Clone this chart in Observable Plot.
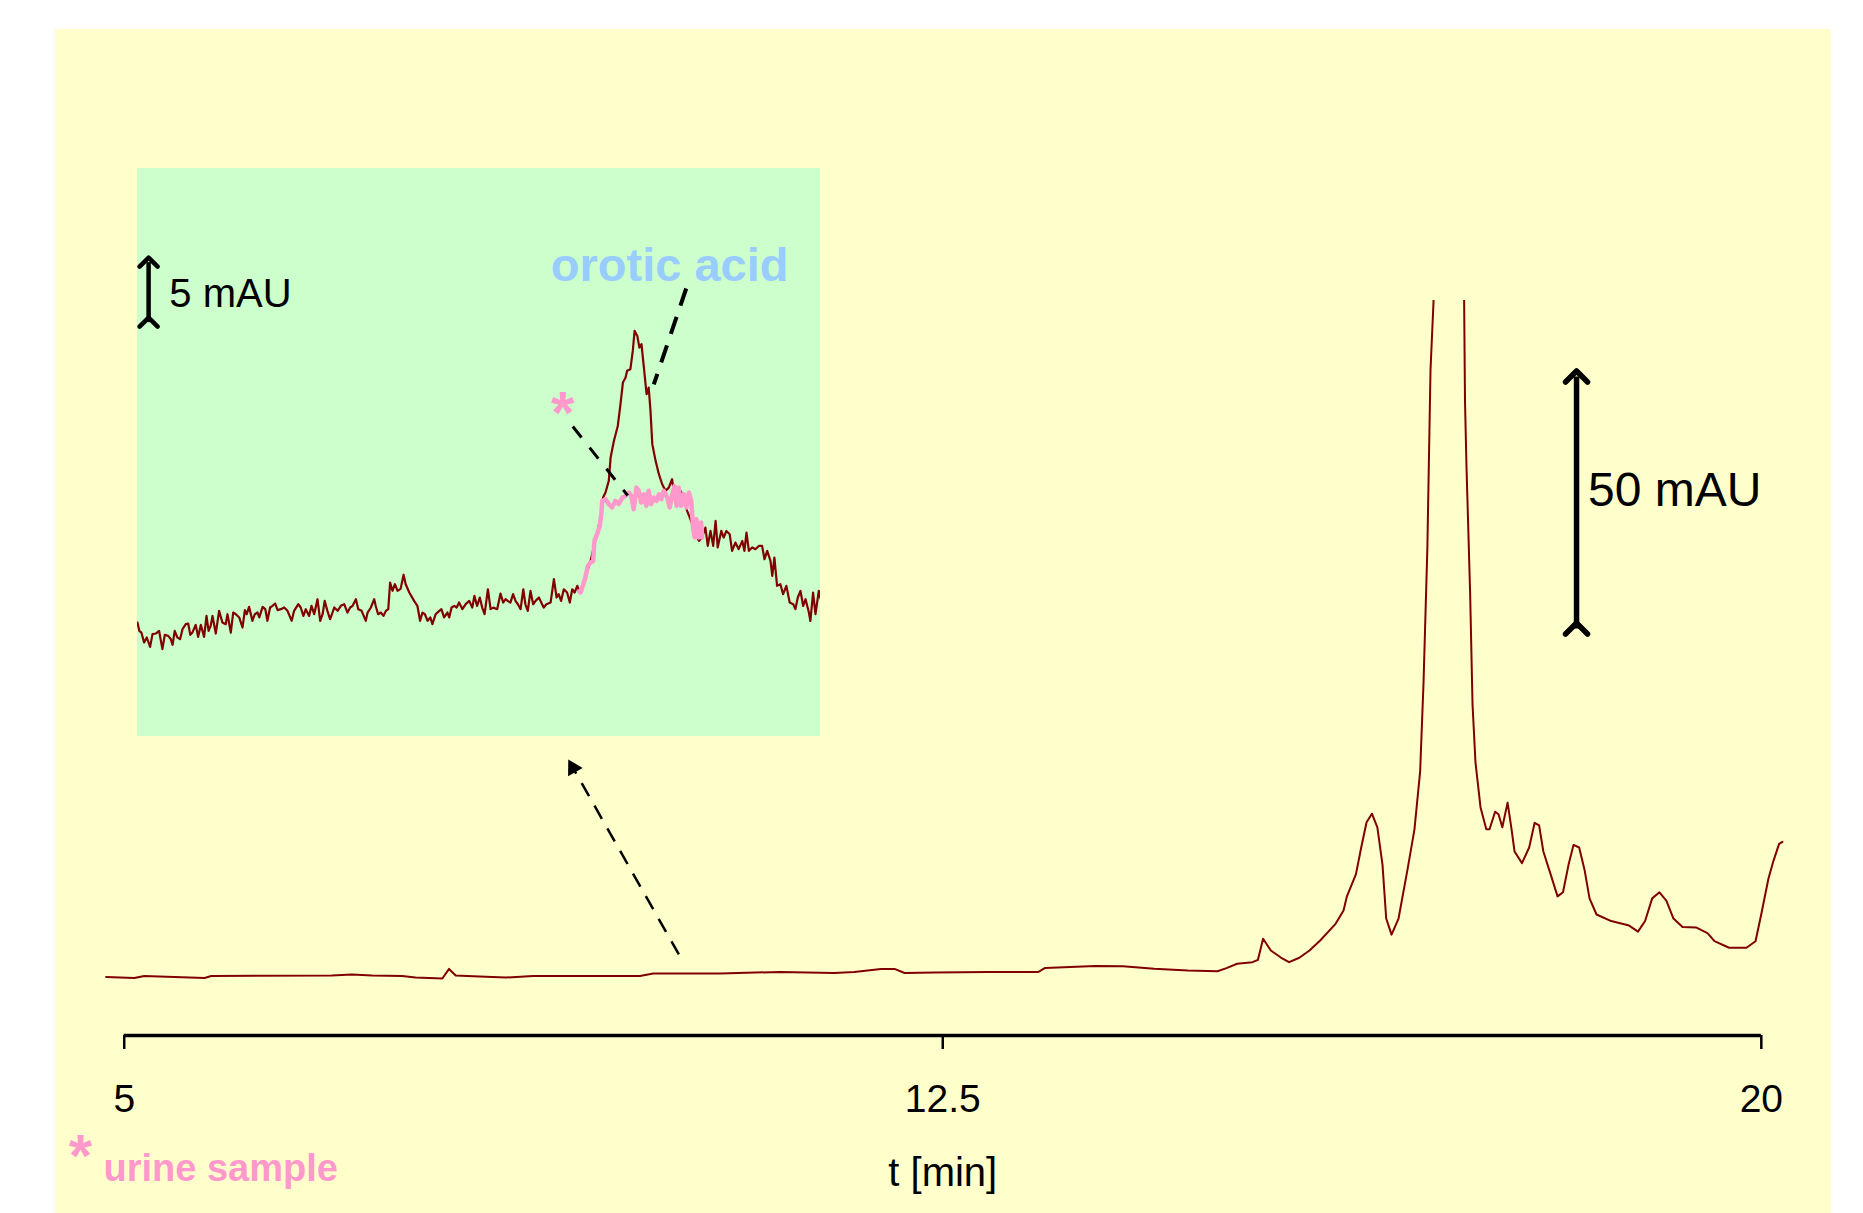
<!DOCTYPE html>
<html><head><meta charset="utf-8">
<script src="https://cdn.jsdelivr.net/npm/d3@7"></script>
<script src="https://cdn.jsdelivr.net/npm/@observablehq/plot@0.6"></script>
<style>
body{margin:0;background:#fff;}
#wrap{position:relative;width:1863px;height:1213px;overflow:hidden;}
#main{position:absolute;left:55px;top:29px;}
#inset{position:absolute;left:137px;top:168px;}
svg{display:block;}
</style></head><body><div id="wrap"><div id="main"></div><div id="inset"></div></div>
<script>
// ---------- data (t in min, absorbance in mAU) ----------
const mainTrace = [
  [4.834,-0.1],[5.092,-0.3],[5.184,0.1],[5.736,-0.3],[5.797,0.1],[6.902,0.2],[7.086,0.4],[7.271,0.2],
  [7.546,0.1],[7.669,-0.2],[7.915,-0.4],[7.976,1.5],[8.037,0.2],[8.253,0.0],[8.498,-0.2],[8.744,0.1],
  [8.989,0.1],[9.725,0.1],[9.848,0.6],[10.462,0.6],[11.013,0.9],[11.505,0.7],[11.689,0.9],[11.934,1.5],
  [12.058,1.5],[12.15,0.7],[12.425,0.8],[12.917,0.9],[13.377,0.9],[13.438,1.7],[13.899,2.1],
  [14.15,2.04],[14.437,1.53],[14.746,1.19],[15.017,1.05],[15.1,1.65],[15.197,2.52],[15.338,2.84],
  [15.388,3.3],[15.435,7.48],[15.506,5.16],[15.601,3.71],[15.673,2.84],[15.767,3.71],[15.86,5.16],
  [15.958,7.14],[16.099,10.45],[16.172,13.1],[16.203,15.9],[16.286,20.3],[16.334,25.6],[16.383,30.6],
  [16.432,32.3],[16.482,29.6],[16.529,22.2],[16.563,11.5],[16.612,8.3],[16.676,11.5],[16.758,21.2],
  [16.822,29.2],[16.874,40.7],[16.905,58.3],[16.94,84.9],[16.969,120.4],[16.997,134.1],[17.12,260],
  [17.277,134.1],[17.285,114.2],[17.299,100.9],[17.332,76.1],[17.354,54.0],[17.381,42.5],[17.427,33.6],
  [17.48,29.2],[17.51,29.2],[17.561,32.7],[17.592,32.2],[17.627,29.6],[17.675,34.5],[17.709,29.6],
  [17.739,24.8],[17.807,22.5],[17.873,25.6],[17.923,30.5],[17.964,30.0],[18.003,24.8],[18.069,20.3],
  [18.133,15.9],[18.183,16.7],[18.233,22.1],[18.279,26.1],[18.331,25.6],[18.38,21.2],[18.426,15.5],
  [18.49,12.3],[18.625,11.0],[18.789,10.1],[18.87,8.9],[18.935,11.0],[19.0,15.5],[19.067,16.7],
  [19.131,15.0],[19.195,11.5],[19.278,9.8],[19.406,9.7],[19.507,8.6],[19.571,7.0],[19.705,5.7],
  [19.864,5.7],[19.947,7.0],[19.999,12.3],[20.065,19.4],[20.112,23.0],[20.163,26.3],[20.194,26.7]
];
const xTicks = [5, 12.5, 20];
const xLabel = "t [min]";

// inset (zoomed view) : standard trace (brown) and urine sample (pink)
const insetStandard = [
  [9.000,9.50],[9.006,8.80],[9.013,8.66],[9.022,7.83],[9.031,8.25],[9.042,7.47],[9.050,8.53],[9.061,8.58],
  [9.072,8.80],[9.083,7.28],[9.091,8.47],[9.102,8.39],[9.111,8.11],[9.117,7.64],[9.124,8.80],[9.133,8.25],
  [9.142,8.11],[9.150,8.94],[9.161,9.36],[9.169,9.41],[9.176,8.47],[9.183,8.66],[9.194,9.30],[9.202,8.30],
  [9.211,9.30],[9.222,8.30],[9.230,10.05],[9.237,8.80],[9.244,9.22],[9.250,10.05],[9.261,8.58],[9.272,10.47],
  [9.283,9.50],[9.294,9.36],[9.300,10.19],[9.311,8.66],[9.319,10.33],[9.328,10.19],[9.339,9.92],[9.350,9.08],
  [9.358,10.53],[9.364,10.19],[9.372,10.80],[9.383,9.64],[9.391,10.19],[9.400,10.33],[9.406,9.92],[9.417,10.80],
  [9.426,10.61],[9.433,9.64],[9.442,10.75],[9.450,10.89],[9.459,11.08],[9.467,10.53],[9.478,10.61],[9.489,10.75],
  [9.500,10.47],[9.514,9.64],[9.522,10.47],[9.536,11.03],[9.544,10.75],[9.553,10.05],[9.561,10.61],[9.572,10.05],
  [9.580,10.89],[9.589,10.19],[9.600,11.44],[9.609,9.64],[9.617,10.19],[9.624,11.30],[9.633,10.47],[9.642,9.78],
  [9.650,10.33],[9.656,10.75],[9.667,10.47],[9.678,10.89],[9.689,11.03],[9.700,10.33],[9.709,10.75],[9.717,10.89],
  [9.728,11.44],[9.736,10.61],[9.747,10.47],[9.761,9.64],[9.767,10.33],[9.778,10.75],[9.789,11.44],[9.794,10.89],
  [9.802,10.19],[9.811,10.33],[9.820,10.05],[9.828,10.47],[9.836,10.61],[9.842,12.83],[9.850,12.14],[9.858,12.69],
  [9.867,12.14],[9.877,12.30],[9.887,13.48],[9.894,12.69],[9.906,12.00],[9.922,11.30],[9.933,10.89],[9.942,9.64],
  [9.950,10.33],[9.958,10.19],[9.967,9.64],[9.976,9.92],[9.983,9.36],[9.994,10.19],[10.006,10.47],[10.013,10.61],
  [10.022,9.92],[10.033,10.33],[10.039,9.92],[10.047,10.75],[10.056,10.89],[10.064,10.75],[10.072,11.17],[10.083,10.61],
  [10.094,11.03],[10.106,11.30],[10.116,10.74],[10.123,11.72],[10.132,10.88],[10.141,11.58],[10.149,10.74],[10.157,10.19],
  [10.168,12.27],[10.177,10.61],[10.186,10.74],[10.199,10.61],[10.210,11.91],[10.219,11.16],[10.227,11.44],[10.234,11.30],
  [10.243,11.16],[10.252,11.86],[10.260,11.30],[10.268,11.02],[10.277,10.61],[10.286,12.27],[10.293,11.02],[10.301,10.47],
  [10.310,12.13],[10.319,11.02],[10.327,11.30],[10.338,11.58],[10.346,11.16],[10.354,10.74],[10.363,11.02],[10.377,11.16],
  [10.388,13.11],[10.397,11.58],[10.404,11.86],[10.412,11.30],[10.421,12.27],[10.432,12.00],[10.441,11.16],[10.449,12.27],
  [10.457,12.00],[10.466,12.55],[10.472,12.13],[10.480,12.30],[10.493,13.30],[10.510,14.60],[10.523,16.00],[10.532,16.86],
  [10.543,18.25],[10.552,19.91],[10.560,20.33],[10.571,21.30],[10.577,23.24],[10.588,24.63],[10.601,25.88],[10.610,27.69],
  [10.618,29.49],[10.627,29.91],[10.632,30.47],[10.643,30.61],[10.651,32.13],[10.657,33.80],[10.666,33.38],[10.673,32.41],
  [10.680,32.69],[10.688,30.74],[10.697,28.52],[10.704,29.08],[10.710,27.13],[10.716,24.36],[10.727,22.97],[10.738,21.86],
  [10.749,21.02],[10.760,20.47],[10.771,20.74],[10.782,21.44],[10.788,20.33],[10.799,20.05],[10.810,20.47],[10.821,19.91],
  [10.832,18.80],[10.845,18.00],[10.860,16.80],[10.872,16.30],[10.882,16.58],[10.893,17.41],[10.901,15.88],[10.910,17.13],
  [10.919,15.88],[10.927,17.97],[10.934,15.75],[10.946,17.13],[10.954,16.58],[10.963,17.13],[10.974,16.86],[10.982,15.47],
  [10.993,16.16],[11.004,15.61],[11.016,16.30],[11.023,15.47],[11.030,16.99],[11.038,15.47],[11.049,15.75],[11.060,15.61],
  [11.071,15.88],[11.082,15.88],[11.090,14.77],[11.099,15.47],[11.110,14.63],[11.116,13.38],[11.123,14.91],[11.132,12.55],
  [11.143,12.69],[11.152,11.86],[11.163,12.55],[11.174,11.16],[11.186,11.02],[11.193,10.61],[11.201,11.58],[11.210,12.13],
  [11.219,10.88],[11.227,11.44],[11.238,10.33],[11.243,9.63],[11.252,11.99],[11.260,10.19],[11.271,12.13],[11.277,11.50]
];
const insetUrine = [
  [10.472,12.10],[10.477,12.00],[10.486,12.69],[10.493,13.25],[10.501,14.22],[10.510,14.50],[10.519,14.63],[10.523,16.30],
  [10.532,16.86],[10.541,17.55],[10.546,18.52],[10.549,19.63],[10.560,19.77],[10.571,19.36],[10.582,19.08],[10.593,19.63],
  [10.604,19.36],[10.616,19.91],[10.627,20.05],[10.638,20.33],[10.646,20.05],[10.654,18.94],[10.663,20.74],[10.671,20.47],
  [10.679,19.49],[10.688,20.19],[10.696,19.22],[10.704,20.47],[10.712,19.36],[10.721,19.91],[10.730,19.63],[10.738,20.19],
  [10.746,19.77],[10.754,20.47],[10.766,19.91],[10.774,19.08],[10.782,20.05],[10.790,20.88],[10.797,19.22],[10.804,20.74],
  [10.812,19.22],[10.821,20.19],[10.830,19.08],[10.838,20.33],[10.846,19.63],[10.852,17.41],[10.857,16.58],[10.863,18.11],
  [10.871,16.58],[10.879,17.83],[10.882,16.58]
];

// annotations (data units)
const scaleBarMain = [{t: 18.307, y1: 69.05, y2: 119.05, label: "50 mAU", tx: 18.413, ty: 93.35}];
const zoomArrow = [{t1: 10.082, y1: 4.37, t2: 9.112, y2: 41.4}];
const scaleBarInset = [{t: 9.037, y1: 34.53, y2: 39.53, label: "5 mAU", tx: 9.106, ty: 35.78}];
const peakLabel = [{t: 10.774, y: 37.92, label: "orotic acid"}];
const peakPointer = [{t1: 10.829, y1: 37.33, t2: 10.721, y2: 29.34}];
const urineMark = [{t: 10.417, y: 28.83, label: "*"}];
const urinePointer = [{t1: 10.451, y1: 25.83, t2: 10.634, y2: 20.08}];
const legendText = "urine sample";

// ---------- colours ----------
const C = {bg: "#FFFFCC", inset: "#CCFFCC", trace: "#800000", urine: "#FF99CC", label: "#99CCFF"};
const FONT = "'Liberation Sans', Arial, Helvetica, sans-serif";

const mainRows = mainTrace.map(([t, y]) => ({t, y}));
const yMin = -11.71, yMax = 134.13;
const axisStart = xTicks[0], axisEnd = xTicks[xTicks.length - 1];

const main = Plot.plot({
  width: 1776, height: 1184,
  marginLeft: 46.9, marginRight: 42.9, marginTop: 271, marginBottom: 178,
  x: {domain: [4.8, 20.25], axis: null},
  y: {domain: [yMin, yMax], axis: null},
  style: {background: C.bg, fontFamily: FONT, color: "black", overflow: "visible"},
  marks: [
    Plot.line(mainRows, {x: "t", y: "y", stroke: C.trace, strokeWidth: 2, clip: true}),
    Plot.ruleY([yMin], {x1: axisStart, x2: axisEnd, stroke: "black", strokeWidth: 3.3}),
    Plot.axisX(xTicks, {tickSize: 14, tickPadding: 35, fontSize: 39, strokeWidth: 2.5,
      tickFormat: d => String(d), label: null}),
    Plot.link(scaleBarMain, {x1: "t", x2: "t", y1: "y1", y2: "y2", stroke: "black", strokeWidth: 5.5, marker: "arrow"}),
    Plot.text(scaleBarMain, {x: "tx", y: "ty", text: "label", textAnchor: "start", lineAnchor: "bottom", fontSize: 48, fill: "black"}),
    Plot.link(zoomArrow, {x1: "t1", y1: "y1", x2: "t2", y2: "y2", stroke: "black", strokeWidth: 2.5, strokeDasharray: "15,11"}),
    Plot.dot(zoomArrow, {x: "t2", y: "y2", symbol: "triangle2", r: 8, fill: "black", rotate: -29.4}),
    Plot.text([{t: 12.5, label: xLabel}], {x: "t", text: "label", frameAnchor: "bottom", dy: 150, lineAnchor: "bottom", fontSize: 40, fill: "black"}),
    Plot.text([legendText], {frameAnchor: "bottom-left", dx: 1.1, dy: 145, textAnchor: "start", lineAnchor: "bottom", fontSize: 38, fontWeight: "bold", fill: C.urine}),
    Plot.text(["*"], {frameAnchor: "bottom-left", dx: -21.9, dy: 98, textAnchor: "middle", lineAnchor: "top", fontSize: 60, fontWeight: "bold", fill: C.urine})
  ]
});
document.getElementById("main").append(main);

const inset = Plot.plot({
  width: 683, height: 568, margin: 0,
  x: {domain: [9, 11.2767], axis: null},
  y: {domain: [0, 47.33], axis: null},
  style: {background: C.inset, fontFamily: FONT, color: "black"},
  marks: [
    Plot.line(insetStandard.map(([t, y]) => ({t, y})), {x: "t", y: "y", stroke: C.trace, strokeWidth: 2.2}),
    Plot.line(insetUrine.map(([t, y]) => ({t, y})), {x: "t", y: "y", stroke: C.urine, strokeWidth: 4.5}),
    Plot.link(scaleBarInset, {x1: "t", x2: "t", y1: "y1", y2: "y2", stroke: "black", strokeWidth: 4.5, marker: "arrow"}),
    Plot.text(scaleBarInset, {x: "tx", y: "ty", text: "label", textAnchor: "start", lineAnchor: "bottom", fontSize: 40, fill: "black"}),
    Plot.text(peakLabel, {x: "t", y: "y", text: "label", textAnchor: "middle", lineAnchor: "bottom", fontSize: 47, fontWeight: "bold", fill: C.label}),
    Plot.link(peakPointer, {x1: "t1", y1: "y1", x2: "t2", y2: "y2", stroke: "black", strokeWidth: 4, strokeDasharray: "18,12"}),
    Plot.text(urineMark, {x: "t", y: "y", text: "label", textAnchor: "middle", lineAnchor: "top", fontSize: 60, fontWeight: "bold", fill: C.urine}),
    Plot.link(urinePointer, {x1: "t1", y1: "y1", x2: "t2", y2: "y2", stroke: "black", strokeWidth: 3, strokeDasharray: "14,13"})
  ]
});
document.getElementById("inset").append(inset);
</script>
</body></html>
